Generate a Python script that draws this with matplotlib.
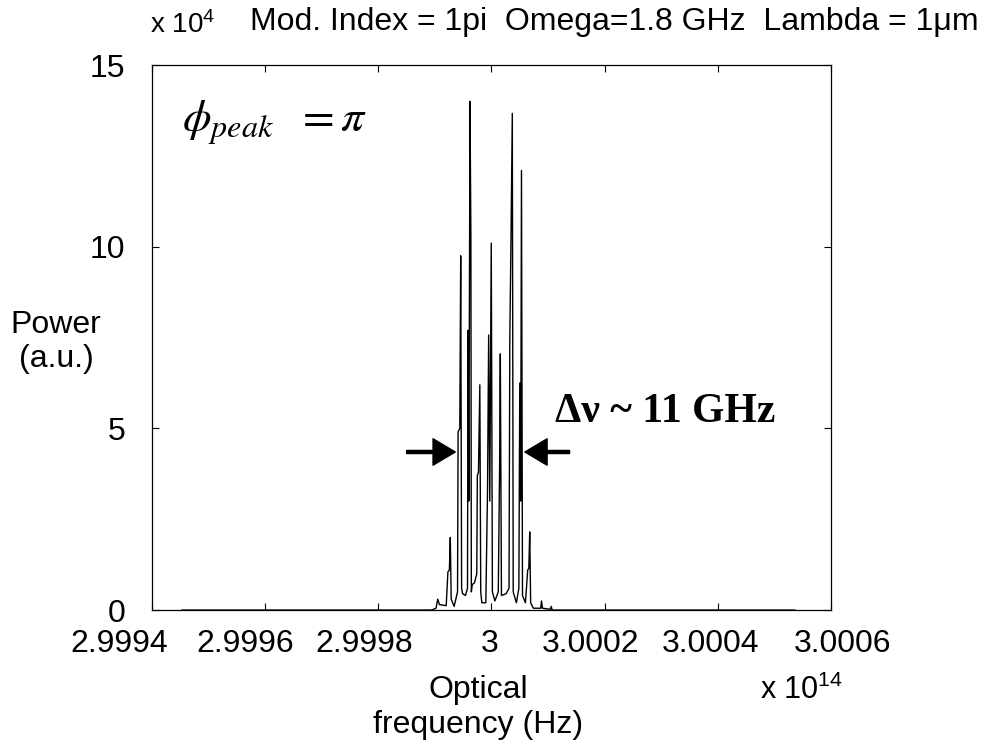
import numpy as np
import matplotlib
matplotlib.use("Agg")
import matplotlib.pyplot as plt
from matplotlib.transforms import ScaledTranslation

plt.rcParams['font.family'] = ['Liberation Sans', 'DejaVu Sans']
plt.rcParams['mathtext.fontset'] = 'custom'
plt.rcParams['mathtext.rm'] = 'Liberation Sans'
plt.rcParams['mathtext.it'] = 'Liberation Sans:italic'

# spectrum trace: offset from 3e14 Hz in GHz, power in units of 1e4
freq_ghz = [-54.7, -10.6, -9.8, -9.5, -9.2, -8.0, -7.7, -7.44, -7.28, -7.12, -6.6,
            -6.0, -5.9, -5.6, -5.44, -5.28, -5.1, -4.6, -4.24, -4.14, -4.0, -3.8,
            -3.64, -3.56, -3.4, -3.0, -2.6, -2.5, -2.3, -2.06, -1.9, -1.7, -1.0,
            -0.7, -0.5, -0.3, -0.04, 0.16, 0.6, 1.2, 1.44, 1.56, 1.76, 2.6, 3.1,
            3.24, 3.44, 3.68, 3.84, 4.4, 4.84, 5.0, 5.16, 5.3, 5.48, 6.0, 6.4, 6.6,
            6.76, 6.92, 7.4, 8.7, 8.84, 9.0, 10.4, 10.56, 10.72, 53.6]
power = [0.0, 0.0, 0.05, 0.3, 0.15, 0.12, 1.05, 1.1, 2.0, 0.3, 0.1,
         0.5, 4.9, 5.0, 9.75, 0.6, 0.45, 0.4, 0.6, 7.7, 3.0, 14.0,
         10.3, 0.5, 0.7, 0.75, 1.0, 3.7, 3.8, 6.2, 0.5, 0.2, 0.2,
         3.3, 7.57, 3.0, 10.1, 0.5, 0.25, 0.5, 4.0, 7.05, 0.4, 0.45, 0.6,
         7.5, 10.1, 13.67, 0.5, 0.2, 0.6, 6.25, 3.0, 12.1, 0.4, 0.2, 1.1, 1.15,
         2.15, 0.2, 0.05, 0.05, 0.25, 0.05, 0.02, 0.1, 0.0, 0.0]

xtick_vals = [2.9994, 2.9996, 2.9998, 3.0, 3.0002, 3.0004, 3.0006]
xtick_labels = ['2.9994', '2.9996', '2.9998', '3', '3.0002', '3.0004', '3.0006']
ytick_vals = [0, 5, 10, 15]

# width markers (GHz offsets, power level)
arrow_y = 4.35
left_arrow = (-15.0, -6.4)
right_arrow = (13.8, 5.9)

x_hz = 3e14 + np.array(freq_ghz) * 1e9

fig = plt.figure(figsize=(9.94, 7.51), dpi=100)
ax = fig.add_axes([0.1529, 0.1877, 0.6831, 0.7257])

ax.plot(x_hz, power, color='black', lw=1.0)

ax.set_xlim(2.9994e14, 3.0006e14)
ax.set_ylim(0, 15)
ax.set_xticks([v * 1e14 for v in xtick_vals])
ax.set_xticklabels(xtick_labels)
ax.set_yticks(ytick_vals)
ax.tick_params(direction='in', top=True, right=True, length=5, width=0.8, labelsize=23)
ax.tick_params(axis='x', pad=14)
ax.tick_params(axis='y', pad=19)
for sp in ax.spines.values():
    sp.set_linewidth(0.9)

# nudge x tick labels like in the original export
shifts_px = [-33, -20, -14, -2, -14, -7, 12]
for lab, dx in zip(ax.get_xticklabels(), shifts_px):
    lab.set_transform(lab.get_transform() + ScaledTranslation(dx / 100, 0, fig.dpi_scale_trans))

ax.set_ylabel('Power\n(a.u.)', rotation=0, fontsize=23, ha='center', va='center',
              multialignment='center', linespacing=1.15)
ax.yaxis.set_label_coords(-0.141, 0.492)
ax.set_xlabel('Optical\nfrequency (Hz)', fontsize=23, ha='center', va='top',
              multialignment='center', linespacing=1.2)
ax.xaxis.set_label_coords(0.48, -0.12)

ax.text(0.895, -0.147, r'x 10$^{\mathregular{14}}$', transform=ax.transAxes,
        fontsize=22, ha='left', va='center')
fig.text(0.151, 0.956, r'x 10$^{\mathregular{4}}$', fontsize=20, ha='left', va='baseline')
fig.text(0.2515, 0.960, 'Mod. Index = 1pi  Omega=1.8 GHz  Lambda = 1\u03bcm',
         fontsize=23, ha='left', va='baseline')

ax.text(0.044, 0.895, r'$\phi_{peak}\ \ = \pi$', transform=ax.transAxes, fontsize=33,
        ha='left', va='center', math_fontfamily='stix')
ax.text(0.5935, 0.363, '\u0394\u03bd ~ 11 GHz', transform=ax.transAxes, fontsize=30,
        fontweight='bold', family=['Liberation Serif', 'DejaVu Serif'], ha='left', va='center')

aprops = dict(facecolor='black', edgecolor='black', width=2.2, headwidth=19, headlength=16,
              shrink=0)
ax.annotate('', xy=(3e14 + left_arrow[1] * 1e9, arrow_y),
            xytext=(3e14 + left_arrow[0] * 1e9, arrow_y), arrowprops=aprops)
ax.annotate('', xy=(3e14 + right_arrow[1] * 1e9, arrow_y),
            xytext=(3e14 + right_arrow[0] * 1e9, arrow_y), arrowprops=aprops)

fig.savefig('out.png', dpi=100)
